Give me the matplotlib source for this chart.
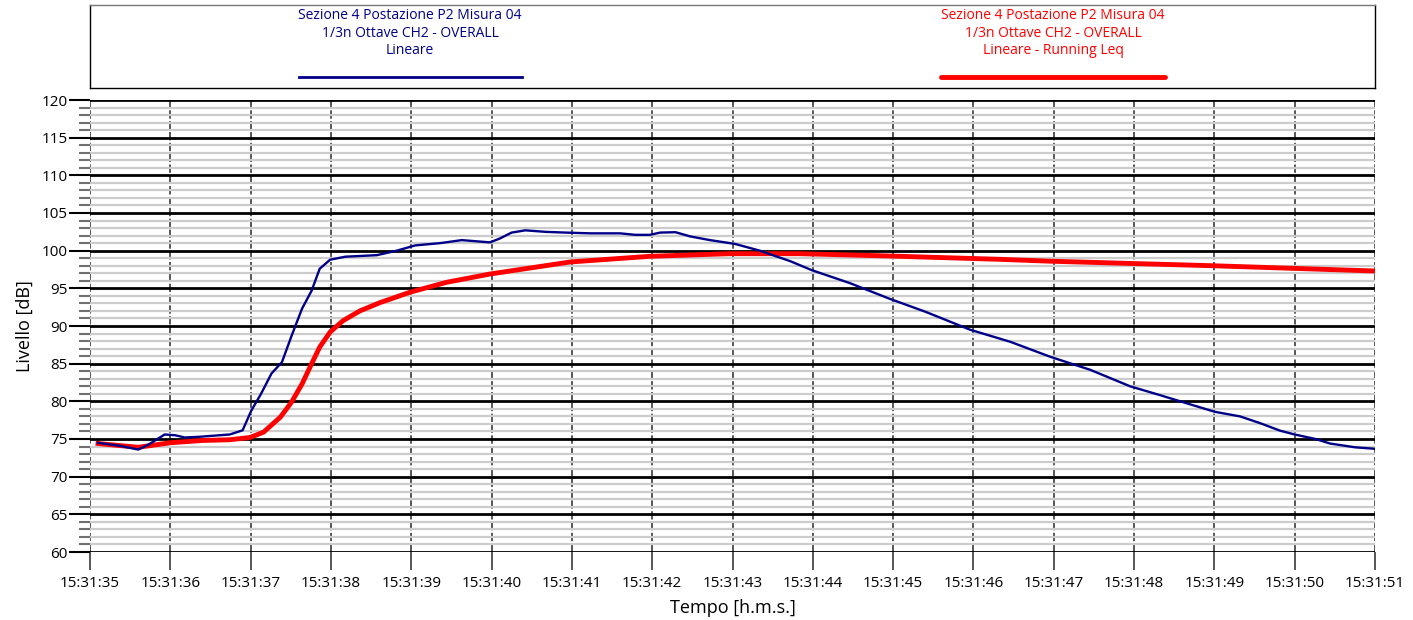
import matplotlib.pyplot as plt
from matplotlib.ticker import MultipleLocator

plt.rcParams['font.family'] = ['Open Sans', 'DejaVu Sans']

# time axis labels (one per second)
tick_labels = ['15:31:%02d' % s for s in range(35, 52)]

# Lineare (blue) - seconds from 15:31:35, level dB
blue_t = [0.10, 0.37, 0.60, 0.72, 0.93, 1.06, 1.18, 1.37, 1.74, 1.90, 2.01, 2.13,
          2.26, 2.39, 2.51, 2.64, 2.76, 2.86, 2.99, 3.18, 3.57, 3.82, 4.05, 4.36,
          4.63, 4.98, 5.10, 5.25, 5.42, 5.67, 5.92, 6.23, 6.60, 6.79, 6.97, 7.10,
          7.29, 7.47, 7.72, 8.03, 8.34, 8.72, 8.99, 9.46, 9.96, 10.40, 10.96,
          11.46, 11.96, 12.45, 12.95, 13.33, 13.76, 14.01, 14.32, 14.57, 14.82,
          15.00, 15.26, 15.44, 15.75, 16.00]
blue_v = [74.5, 74.1, 73.6, 74.2, 75.6, 75.5, 75.2, 75.3, 75.6, 76.15, 78.8, 81.0,
          83.7, 85.2, 88.7, 92.3, 94.7, 97.6, 98.8, 99.2, 99.4, 100.0, 100.7, 101.0,
          101.4, 101.1, 101.6, 102.4, 102.7, 102.5, 102.4, 102.3, 102.3, 102.1, 102.1, 102.4,
          102.45, 101.9, 101.4, 100.9, 100.0, 98.6, 97.4, 95.7, 93.6, 91.9, 89.5,
          87.9, 85.9, 84.2, 82.0, 80.8, 79.4, 78.6, 78.0, 77.1, 76.1,
          75.6, 75.0, 74.4, 73.9, 73.7]

# Lineare - Running Leq (red)
red_t = [0.10, 0.60, 1.00, 1.39, 1.74, 1.99, 2.16, 2.37, 2.51, 2.64, 2.76, 2.86,
         2.99, 3.15, 3.36, 3.61, 3.99, 4.44, 4.98, 5.98, 6.97, 7.97, 8.84, 9.93,
         11.33, 11.96, 13.98, 16.00]
red_v = [74.4, 73.9, 74.5, 74.8, 74.9, 75.2, 75.9, 77.9, 79.9, 82.3, 85.0, 87.2,
         89.2, 90.7, 92.0, 93.1, 94.5, 95.8, 96.9, 98.5, 99.25, 99.6, 99.6, 99.3,
         98.85, 98.6, 98.0, 97.3]

blue_color = '#000088'
red_color = '#ff0000'

fig = plt.figure(figsize=(14.13, 6.2), dpi=100)
W, H = 1413, 620
ax = fig.add_axes([90 / W, 1 - 552 / H, (1375 - 90) / W, (552 - 100) / H])

ax.set_xlim(0, 16)
ax.set_ylim(60, 120)

# grid
ax.yaxis.set_major_locator(MultipleLocator(5))
ax.yaxis.set_minor_locator(MultipleLocator(1))
ax.grid(which='minor', axis='y', color='#cccccc', linewidth=1.6)
ax.grid(which='major', axis='y', color='black', linewidth=2)
ax.grid(which='major', axis='x', color='#3a3a3a', linewidth=1.2, linestyle=(0, (5, 1.5)))
ax.set_axisbelow(True)
for s in ax.spines.values():
    s.set_visible(False)

ax.set_xticks(range(0, 17))
ax.set_xticklabels(tick_labels)
ax.tick_params(axis='x', which='major', length=13, width=1.2, color='#3a3a3a',
               labelsize=11, pad=4)
ax.tick_params(axis='y', which='major', length=15, width=1.5, color='black',
               labelsize=11, pad=1)
ax.tick_params(axis='y', which='minor', length=8, width=1.5, color='#707070')

ax.plot(red_t, red_v, color=red_color, linewidth=3.5, zorder=3,
        solid_joinstyle='round')
ax.plot(blue_t, blue_v, color=blue_color, linewidth=1.7, zorder=4,
        solid_joinstyle='round')

ax.set_xlabel('Tempo [h.m.s.]', fontsize=13, labelpad=6)
ax.set_ylabel('Livello [dB]', fontsize=13, labelpad=6)

# legend box (coordinates in figure pixels)
lax = fig.add_axes([90 / W, 1 - 88 / H, (1375 - 90) / W, (88 - 5) / H])
lax.set_xlim(90, 1375)
lax.set_ylim(88, 5)
lax.set_xticks([])
lax.set_yticks([])
for s in lax.spines.values():
    s.set_color('black')
    s.set_linewidth(1)
lax.spines['top'].set_color('#777777')

blue_txt = 'Sezione 4 Postazione P2 Misura 04\n1/3n Ottave CH2 - OVERALL\nLineare'
red_txt = 'Sezione 4 Postazione P2 Misura 04\n1/3n Ottave CH2 - OVERALL\nLineare - Running Leq'
lax.text(410, 8, blue_txt, color=blue_color, ha='center', va='top', fontsize=10,
         linespacing=1.25)
lax.text(1053, 8, red_txt, color=red_color, ha='center', va='top', fontsize=10,
         linespacing=1.25)
lax.plot([299, 522], [77, 77], color=blue_color, linewidth=2)
lax.plot([941, 1165], [77, 77], color=red_color, linewidth=3.5, solid_capstyle='round')

fig.savefig('out.png', dpi=100)
